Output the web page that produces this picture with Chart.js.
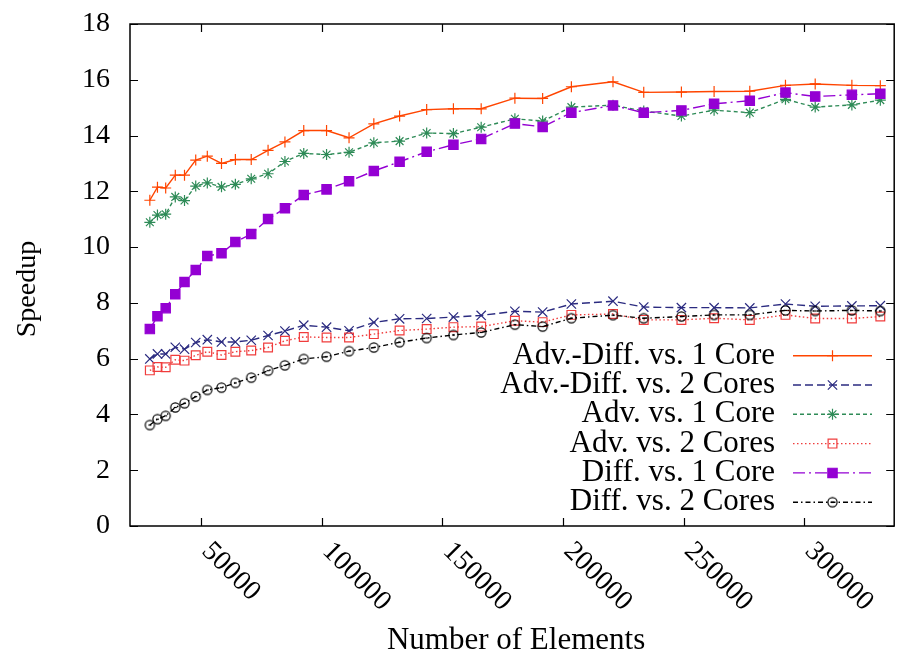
<!DOCTYPE html>
<html><head><meta charset="utf-8">
<script src="https://cdn.jsdelivr.net/npm/chart.js@4/dist/chart.umd.min.js"></script>
<style>html,body{margin:0;padding:0;background:#fff;overflow:hidden;width:899px;height:659px}canvas{display:block}</style>
</head><body>
<canvas id="c" width="902" height="659" style="width:902px;height:659px"></canvas>
<script>
const numElements = [28800, 31960, 35370, 39350, 43170, 47820, 52620, 58500, 64250, 70820, 77800, 84790, 92590, 102040, 111360, 121630, 132310, 143530, 154620, 166120, 180090, 191590, 203500, 220750, 233490, 249100, 262650, 277440, 292230, 304550, 319750, 331540];
const advDiff1Core = [11.68, 12.15, 12.12, 12.58, 12.58, 13.12, 13.26, 13.00, 13.14, 13.14, 13.47, 13.77, 14.18, 14.18, 13.92, 14.42, 14.70, 14.93, 14.96, 14.96, 15.34, 15.33, 15.75, 15.93, 15.55, 15.56, 15.58, 15.59, 15.80, 15.85, 15.80, 15.79];
const advDiff2Cores = [5.99, 6.17, 6.17, 6.41, 6.34, 6.58, 6.68, 6.60, 6.60, 6.66, 6.83, 6.99, 7.20, 7.13, 7.00, 7.30, 7.43, 7.44, 7.49, 7.55, 7.70, 7.67, 7.96, 8.06, 7.85, 7.83, 7.83, 7.82, 7.96, 7.88, 7.89, 7.90];
const adv1Core = [10.89, 11.15, 11.18, 11.80, 11.67, 12.19, 12.30, 12.16, 12.25, 12.45, 12.63, 13.07, 13.36, 13.32, 13.40, 13.74, 13.80, 14.09, 14.07, 14.30, 14.60, 14.52, 15.02, 15.09, 14.88, 14.70, 14.91, 14.82, 15.30, 15.02, 15.10, 15.27];
const adv2Cores = [5.58, 5.70, 5.69, 5.96, 5.93, 6.12, 6.25, 6.13, 6.25, 6.29, 6.40, 6.64, 6.78, 6.76, 6.76, 6.88, 7.01, 7.06, 7.13, 7.15, 7.36, 7.31, 7.57, 7.60, 7.39, 7.39, 7.45, 7.39, 7.57, 7.44, 7.44, 7.51];
const diff1Core = [7.06, 7.52, 7.81, 8.31, 8.75, 9.18, 9.68, 9.78, 10.18, 10.47, 11.01, 11.39, 11.87, 12.07, 12.36, 12.73, 13.06, 13.42, 13.67, 13.88, 14.43, 14.31, 14.82, 15.08, 14.82, 14.90, 15.14, 15.25, 15.54, 15.40, 15.46, 15.50];
const diff2Cores = [3.62, 3.83, 3.95, 4.25, 4.40, 4.64, 4.88, 4.96, 5.13, 5.32, 5.57, 5.76, 5.99, 6.07, 6.27, 6.40, 6.59, 6.74, 6.85, 6.94, 7.22, 7.15, 7.45, 7.56, 7.45, 7.51, 7.57, 7.57, 7.73, 7.71, 7.73, 7.71];
const seriesLabels = ["Adv.-Diff. vs. 1 Core", "Adv.-Diff. vs. 2 Cores", "Adv. vs. 1 Core", "Adv. vs. 2 Cores", "Diff. vs. 1 Core", "Diff. vs. 2 Cores"];
const xTickValues = [50000, 100000, 150000, 200000, 250000, 300000];
const yTickValues = [0, 2, 4, 6, 8, 10, 12, 14, 16, 18];
const xTitle = "Number of Elements";
const yTitle = "Speedup";

const FONT = '"Liberation Serif", "Times New Roman", serif';

// open circle marker with centre dash
const circ = document.createElement('canvas');
circ.width = 13; circ.height = 13;
(function(){
  const g = circ.getContext('2d');
  g.strokeStyle = '#000'; g.lineWidth = 1.2;
  g.beginPath(); g.arc(6.5, 6.5, 4.6, 0, Math.PI * 2); g.stroke();
  g.beginPath(); g.moveTo(5, 6.5); g.lineTo(8, 6.5); g.stroke();
})();

const seriesValues = [advDiff1Core, advDiff2Cores, adv1Core, adv2Cores, diff1Core, diff2Cores];
const styles = [
  {color: '#ff4500', dash: [], point: 'cross', r: 5.5, fill: 'rgba(0,0,0,0)'},
  {color: '#2b2b80', dash: [8, 4], point: 'crossRot', r: 6.6, fill: 'rgba(0,0,0,0)'},
  {color: '#2e8b57', dash: [4, 3], point: 'star', r: 5.5, fill: 'rgba(0,0,0,0)'},
  {color: '#f03c3c', dash: [1.5, 2.5], point: 'rect', r: 6.2, fill: 'rgba(0,0,0,0)'},
  {color: '#9400d3', dash: [12, 4, 2, 4], point: 'rect', r: 6.6, fill: '#9400d3'},
  {color: '#000000', dash: [5, 3, 1.5, 3], point: circ, r: 5, fill: 'rgba(0,0,0,0)'}
];

const datasets = seriesValues.map((vals, i) => ({
  label: seriesLabels[i],
  data: vals.map((v, k) => ({x: numElements[k], y: v})),
  borderColor: styles[i].color,
  backgroundColor: styles[i].fill,
  borderWidth: 1.4,
  borderDash: styles[i].dash,
  pointStyle: styles[i].point,
  pointRadius: styles[i].r,
  pointBorderWidth: 1.2,
  pointBorderColor: styles[i].color,
  pointBackgroundColor: styles[i].fill,
  tension: 0,
  fill: false,
  order: 10 - i
}));

const decor = {
  id: 'decor',
  afterDraw(chart) {
    const ctx = chart.ctx, a = chart.chartArea;
    const xs = chart.scales.x, ys = chart.scales.y;
    ctx.save();
    ctx.strokeStyle = '#000'; ctx.lineWidth = 1.5; ctx.setLineDash([]);
    ctx.strokeRect(a.left, a.top, a.right - a.left, a.bottom - a.top);
    ctx.lineWidth = 1.2;
    ys.ticks.forEach(t => {
      const py = Math.round(ys.getPixelForValue(t.value)) + 0.5;
      ctx.beginPath();
      ctx.moveTo(a.left, py); ctx.lineTo(a.left + 8, py);
      ctx.moveTo(a.right, py); ctx.lineTo(a.right - 8, py);
      ctx.stroke();
    });
    xs.ticks.forEach(t => {
      const px = Math.round(xs.getPixelForValue(t.value)) + 0.5;
      ctx.beginPath();
      ctx.moveTo(px, a.bottom); ctx.lineTo(px, a.bottom - 8);
      ctx.moveTo(px, a.top); ctx.lineTo(px, a.top + 8);
      ctx.stroke();
    });
    ctx.fillStyle = '#000';
    ctx.font = '28px ' + FONT;
    ctx.textAlign = 'left'; ctx.textBaseline = 'middle';
    xs.ticks.forEach(t => {
      const px = xs.getPixelForValue(t.value);
      ctx.save();
      ctx.translate(px + 5, a.bottom + 21);
      ctx.rotate(Math.PI / 4);
      ctx.fillText(String(t.value), 0, 0);
      ctx.restore();
    });
    ctx.font = '31px ' + FONT;
    ctx.textAlign = 'center';
    ctx.fillText(xTitle, (a.left + a.right) / 2 + 4, 641);
    ctx.save();
    ctx.font = '28px ' + FONT;
    ctx.translate(28, 289);
    ctx.rotate(-Math.PI / 2);
    ctx.fillText(yTitle, 0, 0);
    ctx.restore();
    // key
    const textRight = 775, lx0 = 793, lx1 = 872, mx = 832.5;
    chart.data.datasets.forEach((ds, i) => {
      const y = 355.7 + i * 29.3;
      ctx.fillStyle = '#000';
      ctx.textAlign = 'right';
      ctx.font = '31px ' + FONT;
      ctx.fillText(ds.label, textRight, y);
      ctx.strokeStyle = ds.borderColor;
      ctx.lineWidth = ds.borderWidth;
      ctx.setLineDash(ds.borderDash);
      ctx.beginPath(); ctx.moveTo(lx0, y); ctx.lineTo(lx1, y); ctx.stroke();
      ctx.setLineDash([]);
      ctx.fillStyle = ds.pointBackgroundColor;
      ctx.strokeStyle = ds.pointBorderColor;
      ctx.lineWidth = ds.pointBorderWidth;
      Chart.helpers.drawPoint(ctx, {pointStyle: ds.pointStyle, radius: ds.pointRadius, rotation: 0, borderWidth: ds.pointBorderWidth}, mx, y);
    });
    ctx.restore();
  }
};

new Chart(document.getElementById('c'), {
  type: 'line',
  data: {datasets},
  options: {
    responsive: false,
    animation: false,
    devicePixelRatio: 1,
    layout: {padding: {top: 24, right: 1, left: 0, bottom: 0}},
    plugins: {legend: {display: false}, tooltip: {enabled: false}, title: {display: false}},
    scales: {
      x: {
        type: 'linear', min: 20580, max: 337290,
        afterBuildTicks: s => { s.ticks = xTickValues.map(v => ({value: v})); },
        afterFit: s => { s.height = 133; s.paddingLeft = 0; s.paddingRight = 0; },
        grid: {display: false}, border: {display: false},
        ticks: {display: false}
      },
      y: {
        type: 'linear', min: 0, max: 18,
        afterBuildTicks: s => { s.ticks = yTickValues.map(v => ({value: v})); },
        afterFit: s => { s.width = 130; s.paddingTop = 0; s.paddingBottom = 0; },
        grid: {display: false, drawTicks: false}, border: {display: false},
        ticks: {font: {family: FONT, size: 28}, color: '#000', padding: 20}
      }
    }
  },
  plugins: [decor]
});
</script>
</body></html>
